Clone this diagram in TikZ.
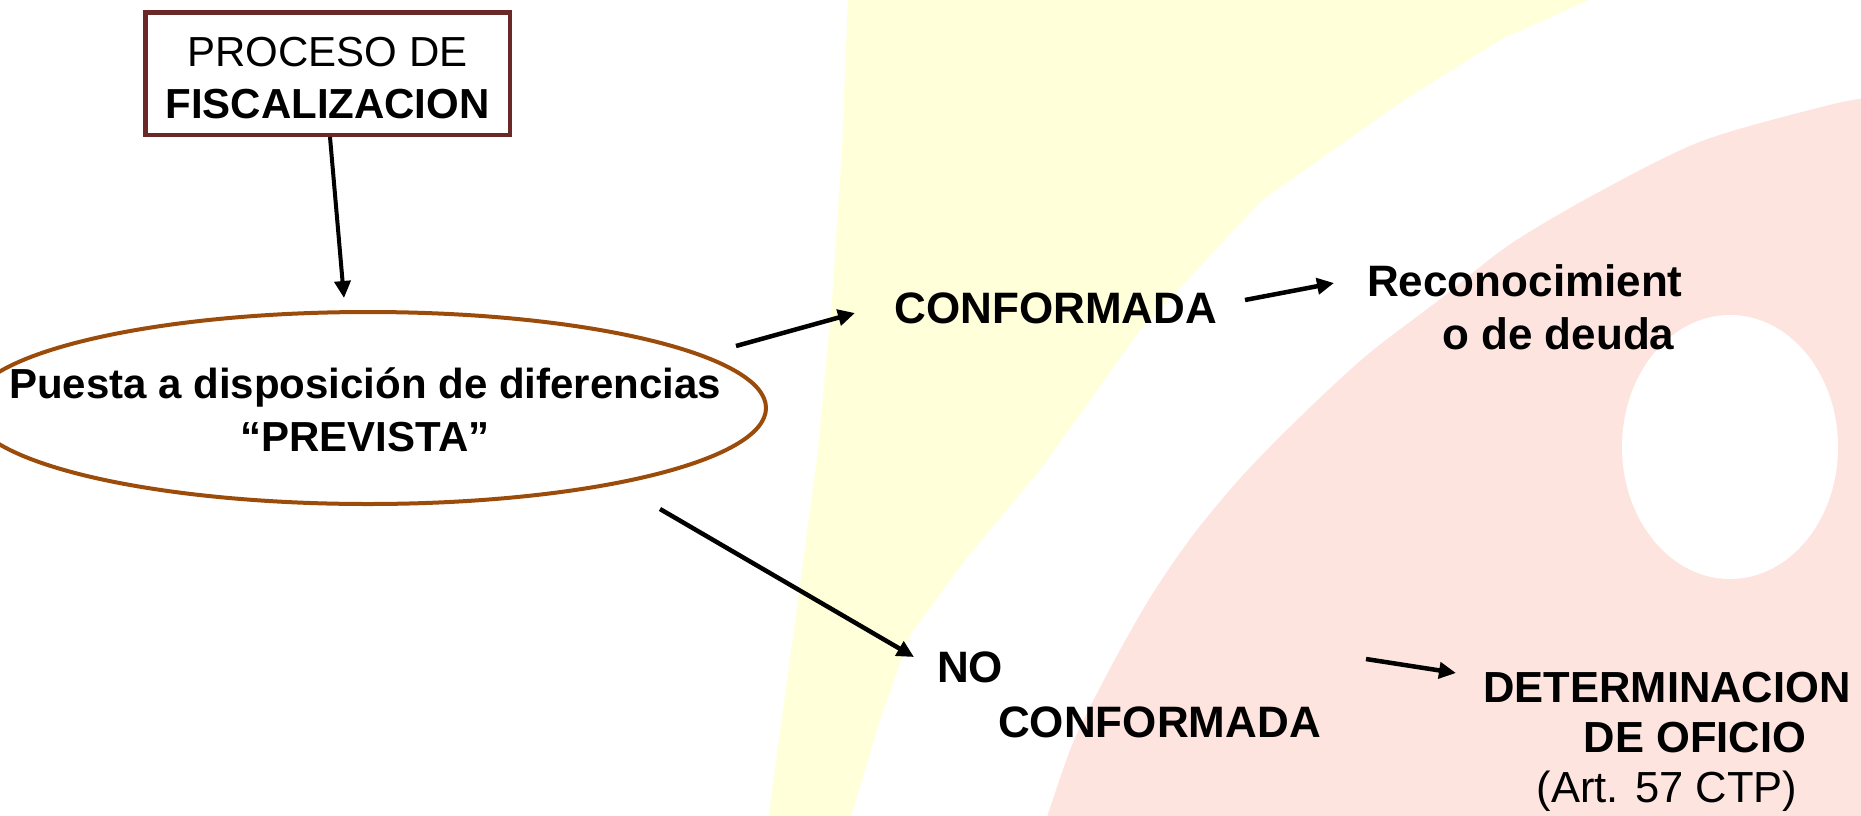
\documentclass[tikz,border=0pt]{standalone}
\usepackage{fontspec}
\setmainfont{Liberation Sans}
\usetikzlibrary{shapes.geometric,arrows.meta}
\definecolor{bgyellow}{RGB}{255,255,218}
\definecolor{bgpink}{RGB}{254,228,223}
\definecolor{boxline}{RGB}{107,40,40}
\definecolor{ellline}{RGB}{155,75,10}
\tikzset{
  arr/.style={line width=4.5pt,-{Triangle[length=17pt,width=16pt]}},
  lbl/.style={inner sep=0pt,font=\fontsize{44}{53}\selectfont\bfseries},
}
\begin{document}
\begin{tikzpicture}[x=1pt,y=-1pt]
\useasboundingbox (0,0) rectangle (1861,815);
% background
\begin{scope}
\clip (0,0) rectangle (1861,815);
\fill[bgyellow] (848,-5) -- (842,150) -- (832,300) -- (818,450) -- (798,600) -- (768,820)
  -- (850,820) -- (880,720) -- (910,635) -- (965,560) -- (1040,470) -- (1140,330)
  -- (1192,275) -- (1262,200) -- (1404,100) -- (1500,40) -- (1600,-5) -- cycle;
\fill[bgpink] plot[smooth, tension=0.5] coordinates {(1866,98) (1825,106) (1702,141) (1597,193) (1509,245)
  (1439,300) (1367,355) (1302,415) (1243,475) (1193,535) (1153,593) (1120,650) (1090,707) (1070,750) (1046,820)}
  -- (1866,820) -- cycle;
\fill[white] (1730,447) ellipse [x radius=108pt, y radius=132pt];
\end{scope}
% nodes
\node[draw=boxline, line width=4.5pt, minimum width=364.5pt, minimum height=122.5pt,
  inner sep=0pt, align=center, font=\fontsize{42}{52}\selectfont] (box) at (327.5,73.5)
  {\rule{0pt}{38pt}PROCESO DE\\\textbf{FISCALIZACION}};
\node[ellipse, draw=ellline, line width=4pt, minimum width=796pt, minimum height=192pt,
  inner sep=0pt] (ell) at (368,408) {};
\node[lbl, align=center, font=\fontsize{42}{53}\selectfont\bfseries] (elltext) at (365,410)
  {Puesta a disposición de diferencias\\“PREVISTA”};
\node[lbl, anchor=base] (conf) at (1056,323) {CONFORMADA};
\node[lbl, anchor=west, align=left] (reco) at (1367,307)
  {Reconocimient\\\hspace*{75pt}o de deuda};
\node[lbl, anchor=west, align=left, font=\fontsize{44}{55}\selectfont\bfseries] (noconf) at (937,694.7)
  {NO\\\hspace*{61pt}CONFORMADA};
\node[lbl, align=center, font=\fontsize{43.5}{50}\selectfont\bfseries] (det) at (1667,741.8)
  {DETERMINACION\\\hspace*{56pt}DE OFICIO\\{\mdseries (Art. 57 CTP)}};
% connector end points
\coordinate (a1s) at (330,137);  \coordinate (a1e) at (344,298);
\coordinate (a2s) at (736,346);  \coordinate (a2e) at (855,313);
\coordinate (a3s) at (1245,300); \coordinate (a3e) at (1334,283);
\coordinate (a4s) at (660,509);  \coordinate (a4e) at (914,657);
\coordinate (a5s) at (1366,659); \coordinate (a5e) at (1456,673);
% connectors
\draw[arr, line width=4pt] (a1s) -- (a1e);
\draw[arr] (a2s) -- (a2e);
\draw[arr] (a3s) -- (a3e);
\draw[arr] (a4s) -- (a4e);
\draw[arr] (a5s) -- (a5e);
\end{tikzpicture}
\end{document}
